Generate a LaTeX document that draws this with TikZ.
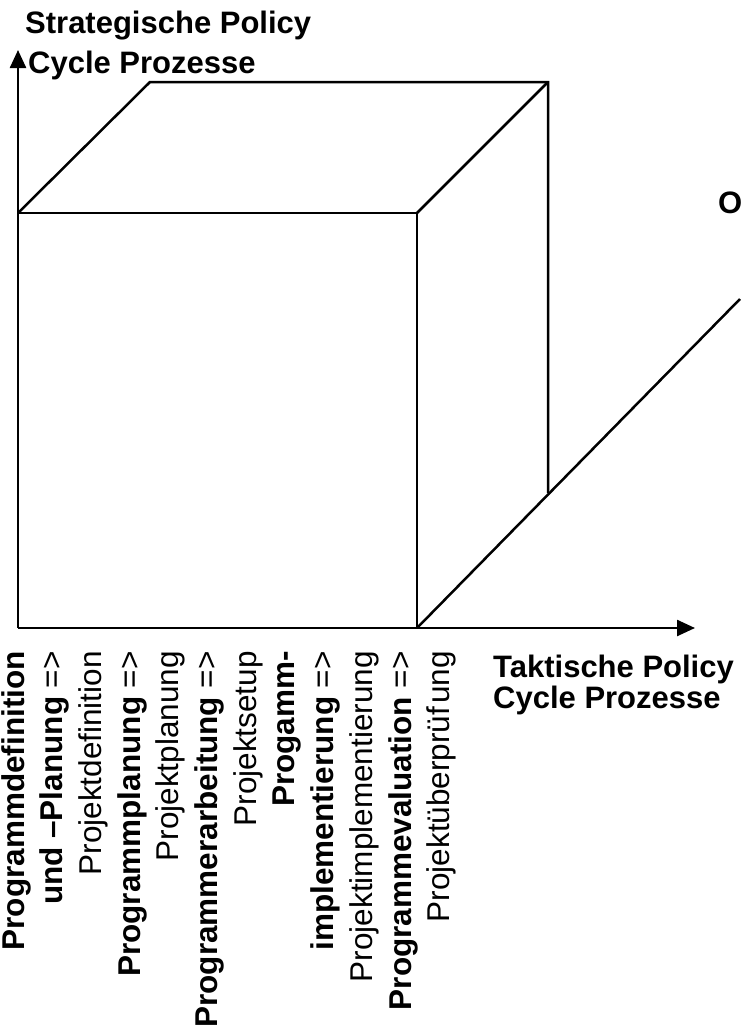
\documentclass[tikz,border=0pt]{standalone}
\usepackage{fontspec}
\setmainfont{Liberation Sans}
\usetikzlibrary{arrows.meta}
\begin{document}
\begin{tikzpicture}[x=1pt,y=-1pt,
  ln/.style={line width=2.5pt, line cap=butt, line join=miter},
  axisline/.style={ln, -{Triangle[length=18pt,width=16pt]}},
  lbl/.style={font=\fontsize{31}{34}\selectfont\bfseries, inner sep=0pt, anchor=base west},
  vb/.style={font=\fontsize{31.5}{36}\selectfont\bfseries, rotate=90, anchor=base east, inner sep=0pt},
  vr/.style={font=\fontsize{31.5}{36}\selectfont, rotate=90, anchor=base east, inner sep=0pt}]
\useasboundingbox (0,0) rectangle (740,1031);
% points
\coordinate (O) at (18,628);
\coordinate (Ytop) at (18,50);
\coordinate (Xend) at (695,628);
\coordinate (A) at (18,213);
\coordinate (B) at (417,213);
\coordinate (C) at (417,628);
\coordinate (E) at (150,82);
\coordinate (F) at (548,82);
\coordinate (G) at (548,493);
\coordinate (Zend) at (740,299);
% axes
\draw[axisline] (O) -- (Ytop);
\draw[axisline] (O) -- (Xend);
\draw[ln] (C) -- (Zend);
% cube
\draw[ln] (A) -- (B) -- (C);
\draw[ln] (A) -- (E) -- (F) -- (G);
\draw[ln] (B) -- (F);
% axis labels
\node[lbl] (s1) at (25,33) {Strategische Policy};
\node[lbl] (s2) at (28,73) {Cycle Prozesse};
\node[lbl] (t1) at (493,677) {Taktische Policy};
\node[lbl] (t2) at (493,708) {Cycle Prozesse};
\node[lbl] (o) at (718,213) {O};
% rotated labels
\node[vb] (r1) at (24,651) {Programmdefinition};
\node[vb] (r2) at (62.7,651) {und –Planung \mdseries=>};
\node[vr] (r3) at (101.4,651) {Projektdefinition};
\node[vb] (r4) at (140.1,651) {Programmplanung \mdseries=>};
\node[vr] (r5) at (178.8,651) {Projektplanung};
\node[vb] (r6) at (217.5,651) {Programmerarbeitung \mdseries=>};
\node[vr] (r7) at (256.2,651) {Projektsetup};
\node[vb] (r8) at (294.9,651) {Progamm-};
\node[vb] (r9) at (333.6,651) {implementierung \mdseries=>};
\node[vr] (r10) at (372.3,651) {Projektimplementierung};
\node[vb] (r11) at (411,651) {Programmevaluation \mdseries=>};
\node[vr] (r12) at (449.7,651) {Projektüberprüf\kern3pt ung};
\end{tikzpicture}
\end{document}
